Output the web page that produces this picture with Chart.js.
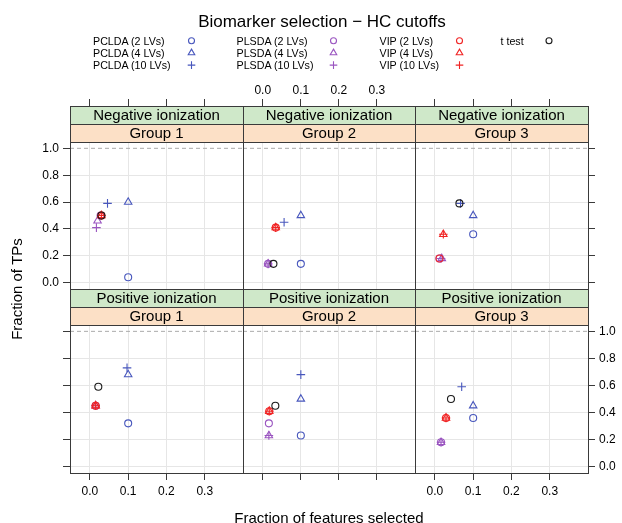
<!DOCTYPE html>
<html><head><meta charset="utf-8">
<script src="https://cdn.jsdelivr.net/npm/chart.js@4/dist/chart.umd.min.js"></script>
<style>
html,body{margin:0;padding:0;background:#fff;}
#wrap{position:relative;width:622px;height:523px;overflow:hidden;font-family:"Liberation Sans",Arial,sans-serif;color:#000;}
canvas{position:absolute;left:0;top:0;}
.t{position:absolute;white-space:nowrap;line-height:1;}
</style></head><body><div id="wrap"></div>
<script>
// ---------------- data ----------------
const ionization = ['Negative ionization', 'Positive ionization'];
const groups = ['Group 1', 'Group 2', 'Group 3'];
const seriesLabels = ['PCLDA (2 LVs)', 'PCLDA (4 LVs)', 'PCLDA (10 LVs)',
                      'PLSDA (2 LVs)', 'PLSDA (4 LVs)', 'PLSDA (10 LVs)',
                      'VIP (2 LVs)', 'VIP (4 LVs)', 'VIP (10 LVs)', 't test'];
const xTicks = [0, 0.1, 0.2, 0.3];
const yTicks = [0, 0.2, 0.4, 0.6, 0.8, 1.0];
const refLineY = 1.0;
// panel order: Neg G1, Neg G2, Neg G3, Pos G1, Pos G2, Pos G3
const pclda2X  = [0.100, 0.100, 0.100, 0.100, 0.100, 0.100];
const pclda2Y  = [0.04, 0.14, 0.36, 0.32, 0.23, 0.36];
const pclda4X  = [0.100, 0.100, 0.100, 0.100, 0.100, 0.100];
const pclda4Y  = [0.60, 0.50, 0.50, 0.68, 0.50, 0.45];
const pclda10X = [0.046, 0.056, 0.067, 0.097, 0.100, 0.070];
const pclda10Y = [0.59, 0.45, 0.59, 0.73, 0.68, 0.59];
const plsda2X  = [0.028, 0.014, 0.012, 0.015, 0.016, 0.016];
const plsda2Y  = [0.50, 0.14, 0.18, 0.45, 0.32, 0.18];
const plsda4X  = [0.020, 0.014, 0.018, 0.015, 0.016, 0.016];
const plsda4Y  = [0.46, 0.14, 0.18, 0.45, 0.23, 0.18];
const plsda10X = [0.017, 0.014, 0.016, 0.015, 0.016, 0.016];
const plsda10Y = [0.41, 0.14, 0.18, 0.45, 0.23, 0.18];
const vip2X    = [0.030, 0.034, 0.012, 0.015, 0.017, 0.029];
const vip2Y    = [0.50, 0.41, 0.18, 0.45, 0.41, 0.36];
const vip4X    = [0.030, 0.034, 0.022, 0.015, 0.017, 0.029];
const vip4Y    = [0.50, 0.41, 0.36, 0.45, 0.41, 0.36];
const vip10X   = [0.030, 0.034, 0.022, 0.015, 0.017, 0.029];
const vip10Y   = [0.50, 0.41, 0.36, 0.45, 0.41, 0.36];
const ttestX   = [0.030, 0.028, 0.064, 0.022, 0.033, 0.042];
const ttestY   = [0.50, 0.14, 0.59, 0.59, 0.45, 0.50];

// ---------------- styles ----------------
const seriesX = [pclda2X, pclda4X, pclda10X, plsda2X, plsda4X, plsda10X, vip2X, vip4X, vip10X, ttestX];
const seriesY = [pclda2Y, pclda4Y, pclda10Y, plsda2Y, plsda4Y, plsda10Y, vip2Y, vip4Y, vip10Y, ttestY];
const BLUE = '#4857bd', PURPLE = '#9a55c0', RED = '#f02424', BLACK = '#1a1a1a';
const seriesColor = [BLUE, BLUE, BLUE, PURPLE, PURPLE, PURPLE, RED, RED, RED, BLACK];
const seriesShape = ['circle', 'triangle', 'cross', 'circle', 'triangle', 'cross', 'circle', 'triangle', 'cross', 'circle'];
const shapeRadius = {circle: 3.5, triangle: 4.3, cross: 4.3};
const FONT = '"Liberation Sans", Arial, sans-serif';
const GREEN = '#cfe8c9', PEACH = '#fce0c6', FRAME = '#3a3a3a', GRID = '#e6e6e6';

const W = 622, H = 523;
const COLS = [70, 243, 415, 588];
const ROWS = [[106, 289], [289, 473]];
const STRIP = 18;
const xMin = -0.052, xMax = 0.400, yMin = -0.047, yMax = 1.047;

const wrap = document.getElementById('wrap');

const stripPlugin = {
  id: 'strips',
  afterDraw(chart, args, opts) {
    const ctx = chart.ctx, a = chart.chartArea;
    const L = Math.round(a.left), R = Math.round(a.right), T = Math.round(a.top), B = Math.round(a.bottom);
    ctx.save();
    ctx.fillStyle = GREEN; ctx.fillRect(L, T, R - L, STRIP);
    ctx.fillStyle = PEACH; ctx.fillRect(L, T + STRIP, R - L, STRIP);
    ctx.strokeStyle = FRAME; ctx.lineWidth = 1;
    ctx.beginPath();
    ctx.moveTo(L, T + STRIP + 0.5); ctx.lineTo(R, T + STRIP + 0.5);
    ctx.moveTo(L, T + 2 * STRIP + 0.5); ctx.lineTo(R, T + 2 * STRIP + 0.5);
    ctx.stroke();
    ctx.strokeRect(L + 0.5, T + 0.5, R - L, B - T);
    ctx.fillStyle = '#000';
    ctx.font = '15px ' + FONT;
    ctx.textAlign = 'center'; ctx.textBaseline = 'middle';
    ctx.fillText(opts.top, (L + R) / 2, T + STRIP / 2 + 1);
    ctx.fillText(opts.bottom, (L + R) / 2, T + STRIP * 1.5 + 1);
    ctx.restore();
  }
};

for (let r = 0; r < 2; r++) {
  for (let c = 0; c < 3; c++) {
    const p = r * 3 + c;
    const L = COLS[c], R = COLS[c + 1], T = ROWS[r][0], B = ROWS[r][1];
    const plotH = B - T - 2 * STRIP;
    const yMaxExt = yMax + 2 * STRIP * (yMax - yMin) / plotH;
    const YW = 40, XH = r === 0 ? 22 : 30;
    const cv = document.createElement('canvas');
    cv.width = W; cv.height = H;
    cv.style.width = W + 'px'; cv.style.height = H + 'px';
    wrap.appendChild(cv);

    const datasets = seriesLabels.map((lab, s) => ({
      label: lab,
      data: [{x: seriesX[s][p], y: seriesY[s][p]}],
      pointStyle: seriesShape[s],
      pointRadius: shapeRadius[seriesShape[s]],
      borderColor: seriesColor[s],
      backgroundColor: 'rgba(0,0,0,0)',
      pointBorderWidth: 1.1,
      borderWidth: 1.1,
      order: seriesLabels.length - s
    }));
    datasets.push({
      type: 'line', label: 'ref',
      data: [{x: xMin, y: refLineY}, {x: xMax, y: refLineY}],
      borderColor: '#aaaaaa', borderWidth: 1, borderDash: [4, 3],
      pointRadius: 0, fill: false, order: 100
    });

    new Chart(cv, {
      type: 'scatter',
      data: {datasets},
      plugins: [stripPlugin],
      options: {
        responsive: false, animation: false, events: [], devicePixelRatio: 1,
        layout: {padding: {
          left: c === 0 ? L - YW : L,
          right: c === 2 ? W - R - YW : W - R,
          top: r === 0 ? T - XH : T,
          bottom: r === 1 ? H - B - XH : H - B
        }},
        plugins: {legend: {display: false}, tooltip: {enabled: false},
                  strips: {top: ionization[r], bottom: groups[c]}},
        scales: {
          x: {
            type: 'linear', position: r === 0 ? 'top' : 'bottom',
            min: xMin, max: xMax,
            afterBuildTicks: s => { s.ticks = xTicks.map(v => ({value: v})); },
            afterFit: s => { s.height = XH; },
            ticks: {display: r === 0 ? c === 1 : c !== 1, color: '#000',
                    font: {size: 12, family: FONT}, padding: r === 0 ? 1 : 4,
                    maxRotation: 0, autoSkip: false, callback: v => v.toFixed(1)},
            grid: {color: GRID, tickColor: FRAME, tickLength: 7, drawTicks: true, lineWidth: 1},
            border: {display: false}
          },
          y: {
            type: 'linear', position: c === 2 ? 'right' : 'left',
            min: yMin, max: yMaxExt,
            afterBuildTicks: s => { s.ticks = yTicks.map(v => ({value: v})); },
            afterFit: s => { s.width = c === 1 ? 0 : YW; },
            ticks: {display: (r === 0 && c === 0) || (r === 1 && c === 2), color: '#000',
                    font: {size: 12, family: FONT}, padding: 4,
                    autoSkip: false, callback: v => v.toFixed(1)},
            grid: {color: ctx => (ctx.tick && Math.abs(ctx.tick.value - refLineY) < 1e-9) ? 'rgba(0,0,0,0)' : GRID,
                   tickColor: FRAME, tickLength: 7, drawTicks: c !== 1, lineWidth: 1},
            border: {display: false}
          }
        }
      }
    });
  }
}

// ---------------- legend & titles ----------------
function addText(txt, x, y, size, align) {
  const d = document.createElement('div');
  d.className = 't';
  d.textContent = txt;
  d.style.fontSize = size + 'px';
  d.style.left = x + 'px';
  d.style.top = y + 'px';
  d.style.transform = align === 'center' ? 'translate(-50%,-50%)' : 'translate(0,-50%)';
  wrap.appendChild(d);
}
addText('Biomarker selection \u2212 HC cutoffs', 322, 21, 17, 'center');
addText('Fraction of features selected', 329, 517, 15, 'center');

const annCv = document.createElement('canvas');
annCv.width = W; annCv.height = H;
annCv.style.width = W + 'px'; annCv.style.height = H + 'px';
wrap.appendChild(annCv);
const actx = annCv.getContext('2d');
actx.save();
actx.translate(18, 289);
actx.rotate(-Math.PI / 2);
actx.font = '15px ' + FONT;
actx.fillStyle = '#000';
actx.textAlign = 'center'; actx.textBaseline = 'middle';
actx.fillText('Fraction of TPs', 0, 0);
actx.restore();

const legTextX = [93, 236.5, 379.5, 500.5];
const legSymX = [191.5, 333.5, 459.5, 549];
const legRowY = [40.7, 52.9, 65.1];
seriesLabels.forEach((lab, s) => {
  const col = Math.floor(s / 3), row = s % 3;
  addText(lab, legTextX[col], legRowY[row], 10.7, 'left');
  actx.save();
  actx.strokeStyle = seriesColor[s];
  actx.fillStyle = 'rgba(0,0,0,0)';
  actx.lineWidth = 1.1;
  const rad = seriesShape[s] === 'circle' ? 3 : 3.8;
  Chart.helpers.drawPoint(actx, {pointStyle: seriesShape[s], radius: rad, borderWidth: 1.1, rotation: 0},
                          legSymX[col], legRowY[row]);
  actx.restore();
});
</script></body></html>
